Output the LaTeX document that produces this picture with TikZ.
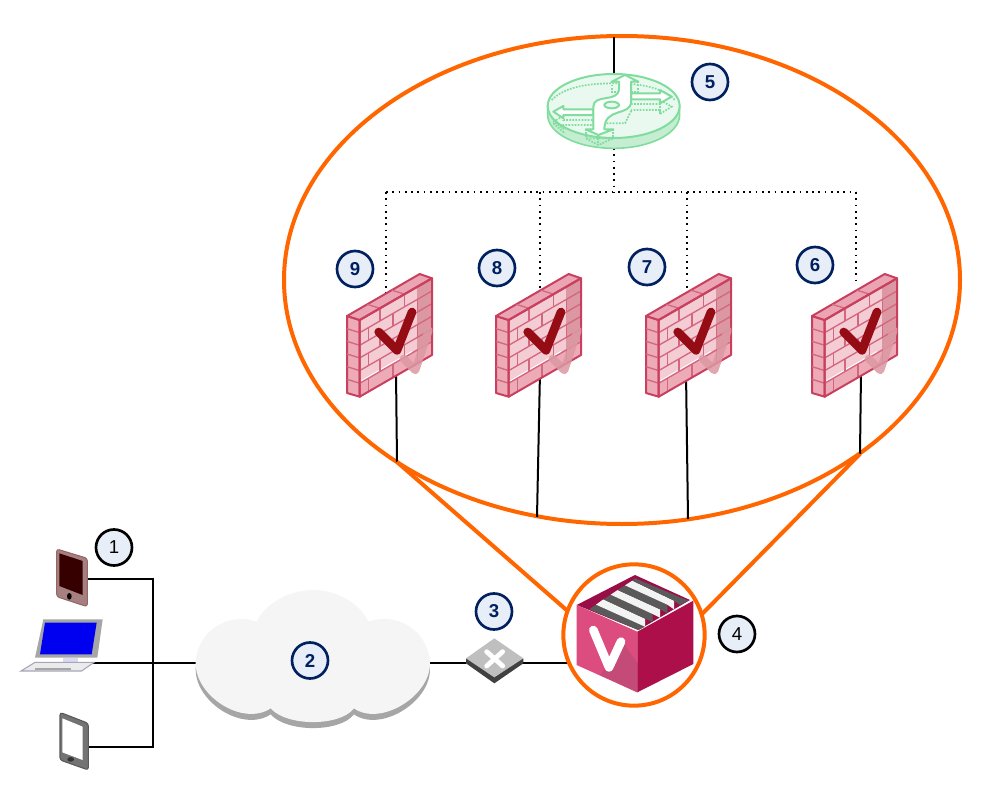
\documentclass[tikz,border=0pt]{standalone}
\usepackage{fontspec}
\setmainfont{Liberation Sans}
\usetikzlibrary{shapes.geometric,calc}

\definecolor{ringorange}{HTML}{FF6600}
\definecolor{navy}{HTML}{002060}
\definecolor{badgefill}{HTML}{E8EEF8}
\definecolor{wallfront}{HTML}{F4CCD3}
\definecolor{wallside}{HTML}{EDABB8}
\definecolor{walltop}{HTML}{EBA4B3}
\definecolor{walledge}{HTML}{C9405F}
\definecolor{wallcheck}{HTML}{960C14}
\definecolor{wallshade}{HTML}{DC98A2}
\definecolor{routeredge}{HTML}{80DD9E}
\definecolor{routerside}{HTML}{C5EDD2}
\definecolor{routertopc}{HTML}{EAF9EF}
\definecolor{boxfront}{HTML}{DC4C7E}
\definecolor{boxshade}{HTML}{C44A78}
\definecolor{boxright}{HTML}{AD0F4B}
\definecolor{boxtop}{HTML}{9A0E48}
\definecolor{foldergray}{HTML}{5A5A5A}
\definecolor{folderwhite}{HTML}{F2F4F4}

\tikzset{
    crop/.style 2 args={shift={(#1,#2)}, x=.25pt, y=-.25pt},
    brick/.style={walledge!80, line width=1pt},
    firewall/.pic={
        % faces
        \fill [wallfront] (12.7,4) -- (85,-37.7) -- (85,39) -- (12.7,80.7) -- cycle;
        \fill [wallshade] (70,-29) -- (85,-37.7) -- (85,39) -- (70,47.7) -- cycle;
        \fill [wallside] (12.7,66) -- (85,24.3) -- (85,39) -- (12.7,80.7) -- cycle;
        \draw [white, line width=.8pt] (14,65) -- (65,35.5);
        \filldraw [fill=wallside, draw=walledge, line width=1.5pt, line join=round] (0,0) -- (12.7,4) -- (12.7,80.7) -- (0,77) -- cycle;
        \filldraw [fill=walltop, draw=walledge, line width=1.5pt, line join=round] (0,0) -- (72.7,-42) -- (85,-37.7) -- (12.7,4) -- cycle;
        % bricks
        \foreach \v in {.165,.33,.495,.66,.825}
            \draw [brick] (12.7,4+76.7*\v) -- ++(72.3,-41.7);
        \foreach \v in {.165,.33,.495,.66,.825}
            \draw [brick] (0,76.7*\v) -- ++(12.7,4);
        \foreach \u/\v in {.28/0,.62/0,.12/.165,.46/.165,.8/.165,.28/.33,.62/.33,.12/.495,.46/.495,.8/.495,.28/.66,.62/.66,.12/.825,.46/.825,.8/.825}
            \draw [brick] ({12.7+72.3*\u},{4-41.7*\u+76.7*\v}) -- ++(0,12.7);
        \foreach \u in {.28,.62}
            \draw [brick] ({12.7+72.3*\u},{4-41.7*\u}) -- ++(-12.7,-4);
        \draw [walledge, line width=1.5pt, line join=round] (12.7,4) -- (85,-37.7) -- (85,39) -- (12.7,80.7) -- cycle;
        % check mark
        \draw [wallshade, opacity=.85, line width=6pt, line cap=round, line join=round] (56.7,42.7) -- (68.3,54.3) -- (81.7,14.3);
        \draw [wallcheck, line width=6.5pt, line cap=round, line join=round] (31.7,16) -- (50,34.3) -- (65,-4);
    },
    badge/.style={
        circle,
        draw=navy,
        fill=badgefill,
        line width=2pt,
        minimum size=27pt,
        inner sep=0pt,
        text=navy,
        font=\fontsize{14}{14}\selectfont\bfseries
    },
    plainbadge/.style={
        badge,
        draw=black,
        text=black,
        font=\fontsize{14}{14}\selectfont
    },
    link/.style={
        draw,
        black,
        line width=1.5pt
    },
    bus/.style={
        draw,
        black,
        line width=1.3pt,
        dash pattern=on 1.3pt off 3.4pt
    },
    zoomline/.style={
        draw,
        ringorange,
        line width=3pt
    }
}

\begin{document}
\begin{tikzpicture}[x=.75pt, y=-.75pt]

    \useasboundingbox (0,0) rectangle (990,796);

    % Zoom ring
    \node [ellipse, draw=ringorange, line width=3pt, minimum width=507pt, minimum height=366pt, inner sep=0pt] (zoomring) at (622,280) {};
    \node [circle, minimum size=106pt, inner sep=0pt] (vring) at (634,635) {};

    % Anchors
    \coordinate (tablet) at (87,579);
    \coordinate (laptop) at (93,663);
    \coordinate (phone) at (88,747);
    \coordinate (hub) at (152.5,663);
    \coordinate (cloudin) at (196,663);
    \coordinate (cloudout) at (430,663);
    \coordinate (switchin) at (466,663);
    \coordinate (switchout) at (522,663);
    \coordinate (routertop) at (614,74);
    \coordinate (ringtop) at (614,37);
    \coordinate (routerbot) at (614,148);
    \coordinate (busmid) at (614,192);

    % Uplinks
    \path [link] (tablet) -| (hub);
    \path [link] (phone) -| (hub);
    \path [link] (laptop) -- (cloudin);
    \path [link] (cloudout) -- (switchin);
    \path [link] (switchout) -- (switchout -| vring);
    \path [link] (routertop) -- (ringtop);
    \path [bus] (routerbot) -- (busmid);

    % Firewall branches
    \foreach \name/\xw/\xbus/\ytap/\xup/\xend/\yend in {
        nine/347/386/295/396/397/462,
        eight/496/540/288/540/537/517,
        seven/646/687/293/686/688/519,
        six/812/856/280/861/860/454}{
        \coordinate (fw\name) at (\xw,316);
        \coordinate (bus\name) at (\xbus,192);
        \coordinate (tap\name) at (\xbus,\ytap);
        \coordinate (low\name) at (\xup,372);
        \coordinate (end\name) at (\xend,\yend);
        \path [bus] (bus\name) -- (tap\name);
        \path [link] (low\name) -- (end\name);
    }
    \path [bus] (busnine) -- (bussix);

    \pic at (fwnine) {firewall};
    \pic at (fweight) {firewall};
    \pic at (fwseven) {firewall};
    \pic at (fwsix) {firewall};

    % Cone lines
    \path [zoomline] (endnine) -- (vring.160);
    \path [zoomline] (endsix) -- (vring.17);

    % Router
    \begin{scope}[crop={545}{70}]
        \filldraw [fill=routerside, draw=routeredge, line width=1.2pt] (8,108) -- (8,135) arc [start angle=180, end angle=0, x radius=198, y radius=100] -- (404,108) -- cycle;
        \filldraw [fill=routertopc, draw=routeredge, line width=1.5pt] (206,108) ellipse [x radius=198, y radius=96];
        % lower copies
        \begin{scope}[routeredge, densely dotted, line width=1.3pt]
            \draw (20,90) .. controls (60,50) and (130,40) .. (206,40) .. controls (280,40) and (350,50) .. (390,90);
            \draw (25,155) -- (55,138) -- (55,150) -- (145,150) -- (145,165) -- (55,165) -- (55,175) -- cycle;
            \draw (258,102) -- (345,102) -- (345,90) -- (380,110) -- (345,132) -- (345,120) -- (258,120);
            \draw (160,225) -- (122,205) -- (205,205) -- cycle;
            \draw (122,178) -- (122,205) (205,178) -- (205,205) (160,195) -- (160,225);
            \draw (200,35) -- (200,65) -- (222,65) (280,35) -- (280,65) -- (258,65);
            \draw (178,130) -- (178,160) -- (240,160) -- (260,120);
            \draw (25,160) -- (60,190) (345,132) -- (345,105);
        \end{scope}
        % arrows
        \begin{scope}[draw=routeredge, fill=white, line width=1.5pt, line join=round]
            \filldraw (25,125) -- (55,108) -- (55,118) -- (145,118) -- (145,135) -- (55,135) -- (55,145) -- cycle;
            \filldraw (258,70) -- (345,70) -- (345,60) -- (380,80) -- (345,100) -- (345,88) -- (258,88) -- cycle;
            \filldraw (160,195) -- (122,178) -- (145,178) -- (145,110) .. controls (145,70) and (222,100) .. (222,55) -- (222,35) -- (200,35) -- (240,15) -- (280,35) -- (258,35) -- (258,95) .. controls (258,140) and (178,110) .. (178,178) -- (205,178) -- cycle;
            \filldraw [fill=routertopc] (200,105) ellipse [x radius=22, y radius=10];
        \end{scope}
    \end{scope}

    % Cloud
    \begin{scope}[crop={180}{580}]
        \def\cloudpath{(47,250) .. controls (50,150) and (150,95) .. (230,125) .. controls (255,70) and (330,30) .. (400,30) .. controls (470,30) and (540,70) .. (565,125) .. controls (650,95) and (745,150) .. (750,250) .. controls (750,350) and (600,440) .. (522,385) .. controls (480,440) and (320,440) .. (272,385) .. controls (190,440) and (47,350) .. (47,250) -- cycle}
        \fill [black!35, shift={(0,18)}] \cloudpath;
        \fill [black!4] \cloudpath;
    \end{scope}

    % Switch
    \begin{scope}[crop={460}{560}]
        \fill [black!75] (18,295) -- (18,310) -- (103,370) -- (190,310) -- (190,295) -- cycle;
        \fill [black!25] (103,235) -- (190,295) -- (103,352) -- (18,295) -- cycle;
        \draw [white, line width=3.6pt, line cap=round] (80,275) -- (128,318) (128,275) -- (80,318);
    \end{scope}

    % V box
    \node [circle, draw=ringorange, fill=white, line width=3pt, minimum size=106pt, inner sep=0pt] (vbox) at (vring) {};
    \begin{scope}[crop={570}{570}]
        \fill [boxtop] (195,15) -- (360,90) -- (205,180) -- (20,105) -- cycle;
        \fill [foldergray] (58,118) -- (78,104) -- (225,170) -- (205,180) -- cycle;
        \fill [folderwhite] (78,104) -- (100,88) -- (225,146) -- (225,170) -- cycle;
        \fill [foldergray] (100,88) -- (122,74) -- (248,132) -- (248,156) -- (225,146) -- cycle;
        \fill [folderwhite] (122,74) -- (143,60) -- (270,118) -- (270,143) -- (248,132) -- cycle;
        \fill [foldergray] (143,60) -- (165,46) -- (292,104) -- (292,130) -- (270,118) -- cycle;
        \fill [folderwhite] (165,46) -- (187,32) -- (312,92) -- (312,118) -- (292,104) -- cycle;
        \fill [foldergray] (187,32) -- (195,25) -- (355,92) -- (330,105) -- (312,92) -- cycle;
    \end{scope}
    \begin{scope}[crop={460}{560}]
        \fill [boxfront] (350,135) -- (532,215) -- (532,397) -- (350,315) -- cycle;
        \fill [boxshade] (490,250) -- (532,310) -- (532,397) -- (420,345) -- cycle;
        \fill [boxright] (532,215) -- (700,122) -- (700,312) -- (532,397) -- cycle;
        \draw [white, line width=6.5pt, line cap=round, line join=round] (400,210) -- (447,322) -- (483,245);
    \end{scope}

    % Devices
    \begin{scope}[crop={10}{525}]
        \filldraw [fill=red!30!black!50!white, draw=red!30!black!60!white, line width=.8pt, rounded corners=2pt] (140,72) -- (232,100) -- (232,245) -- (140,215) -- cycle;
        \fill [red!70!black!30!black] (148,85) -- (218,108) -- (218,210) -- (148,183) -- cycle;
        \fill [black] (178,214) circle [x radius=7, y radius=10];
        \fill [black!35] (100,283) -- (278,283) -- (262,398) -- (75,398) -- cycle;
        \fill [blue!94!black] (105,293) -- (260,293) -- (245,388) -- (90,388) -- cycle;
        \fill [black!30!blue!15!white] (160,398) rectangle (205,412);
        \filldraw [fill=black!8, draw=blue!20!black!35!white, line width=.8pt] (33,438) -- (75,412) -- (252,412) -- (215,438) -- cycle;
        \fill [black!35] (75,430) rectangle (183,435);
        \filldraw [fill=black!55, draw=black!65, line width=.8pt, rounded corners=2pt] (150,562) -- (235,595) -- (235,735) -- (150,705) -- cycle;
        \fill [white] (157,580) -- (218,605) -- (218,705) -- (157,682) -- cycle;
        \fill [black!80] (182,703) circle [x radius=10, y radius=7];
    \end{scope}

    % Badges
    \node [plainbadge] (b1) at (114,547.5) {1};
    \node [badge] (b2) at (310,660.5) {2};
    \node [badge] (b3) at (494,611.5) {3};
    \node [plainbadge] (b4) at (737,634) {4};
    \node [badge] (b5) at (710,82) {5};
    \node [badge] (b6) at (815,265) {6};
    \node [badge] (b7) at (647,267) {7};
    \node [badge] (b8) at (497,268) {8};
    \node [badge] (b9) at (355,269) {9};

\end{tikzpicture}
\end{document}
